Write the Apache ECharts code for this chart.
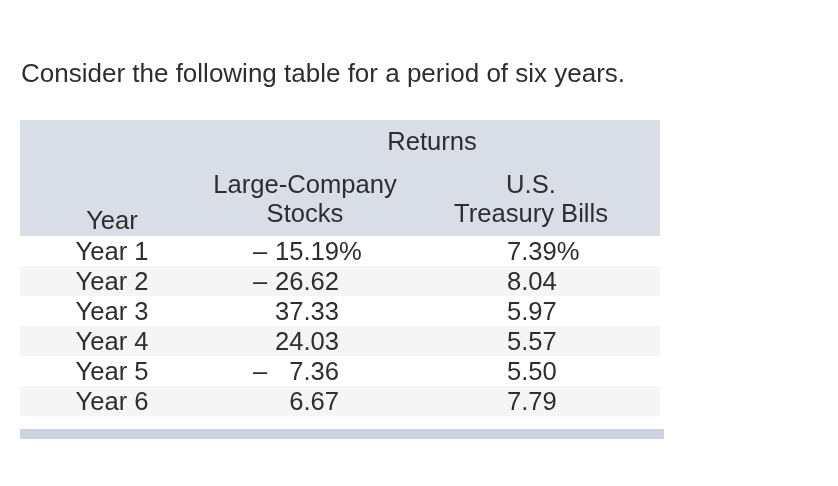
<!DOCTYPE html>
<html>
<head>
<meta charset="utf-8">
<script src="https://cdn.jsdelivr.net/npm/echarts@6/dist/echarts.min.js"></script>
<style>
html,body{margin:0;padding:0;background:#fff;}
#main{width:838px;height:486px;}
</style>
</head>
<body>
<div id="main"></div>
<script>
var titleText = 'Consider the following table for a period of six years.';
var headerGroup = 'Returns';
var colYear = 'Year';
var colStocks = ['Large-Company', 'Stocks'];
var colBills = ['U.S.', 'Treasury Bills'];
var years = ['Year 1', 'Year 2', 'Year 3', 'Year 4', 'Year 5', 'Year 6'];
var stocks = [-15.19, -26.62, 37.33, 24.03, -7.36, 6.67];
var bills = [7.39, 8.04, 5.97, 5.57, 5.50, 7.79];

var FONT = '"Liberation Sans", Arial, Helvetica, sans-serif';
var TXT = '#2e2e2e';
var FS = 25.6;
var DY = 1.5;

var chart = echarts.init(document.getElementById('main'), null, {renderer: 'canvas'});

function txt(x, y, s, align) {
  return {
    type: 'text',
    style: {
      x: x, y: y + DY, text: s, fill: TXT,
      font: FS + 'px ' + FONT,
      textAlign: align || 'left', textVerticalAlign: 'middle'
    }
  };
}

var option = {
  backgroundColor: '#ffffff',
  animation: false,
  title: {
    text: titleText,
    left: 16, top: 57,
    textStyle: {fontFamily: FONT, fontSize: 26, fontWeight: 'normal', color: TXT}
  },
  grid: {left: 20, right: 178, top: 236, height: 180},
  xAxis: {type: 'value', min: 0, max: 1, show: false},
  yAxis: {type: 'category', data: years, inverse: true, show: false},
  graphic: [
    {type: 'rect', shape: {x: 20, y: 120, width: 640, height: 116}, style: {fill: '#d9dde6'}},
    txt(432, 141, headerGroup, 'center'),
    txt(305, 184, colStocks[0], 'center'),
    txt(305, 213, colStocks[1], 'center'),
    txt(531, 184, colBills[0], 'center'),
    txt(531, 213, colBills[1], 'center'),
    txt(112, 220, colYear, 'center'),
    {type: 'rect', shape: {x: 20, y: 429, width: 644, height: 10}, style: {fill: '#ccd2de'}}
  ],
  series: [{
    type: 'custom',
    data: years.map(function (y, i) { return [0, i]; }),
    encode: {x: 0, y: 1},
    renderItem: function (params, api) {
      var i = api.value(1);
      var p = api.coord([0, i]);
      var h = api.size([0, 1])[1];
      var cs = params.coordSys;
      var x0 = cs.x, y = p[1];
      var children = [];
      if (i % 2 === 1) {
        children.push({type: 'rect', shape: {x: x0, y: y - h / 2, width: cs.width, height: h}, style: {fill: '#f5f5f5'}});
      }
      children.push(txt(x0 + 92, y, years[i], 'center'));
      var v = stocks[i];
      if (v < 0) children.push(txt(x0 + 233, y, '\u2013', 'left'));
      children.push(txt(x0 + 319, y, Math.abs(v).toFixed(2), 'right'));
      if (i === 0) children.push(txt(x0 + 319, y, '%', 'left'));
      children.push(txt(x0 + 487, y, bills[i].toFixed(2) + (i === 0 ? '%' : ''), 'left'));
      return {type: 'group', children: children};
    }
  }]
};
chart.setOption(option);
</script>
</body>
</html>
